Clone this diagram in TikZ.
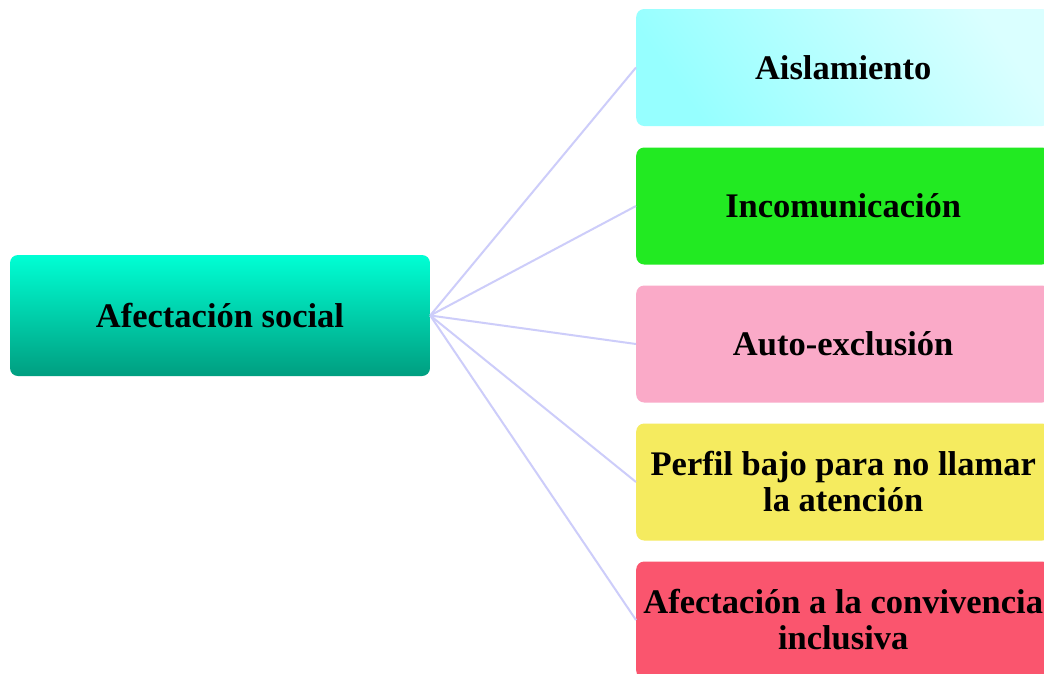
\documentclass[tikz,border=0pt]{standalone}
\usepackage{fontspec}
\setmainfont{Liberation Serif}
\usetikzlibrary{shadings}
\definecolor{lineC}{RGB}{205,205,250}
\definecolor{tealTop}{RGB}{0,255,212}
\definecolor{tealBot}{RGB}{0,158,128}
\definecolor{cyanA}{RGB}{150,255,255}
\definecolor{cyanB}{RGB}{218,255,255}
\definecolor{greenC}{RGB}{34,234,34}
\definecolor{pinkC}{RGB}{250,170,200}
\definecolor{yellowC}{RGB}{245,235,95}
\definecolor{redC}{RGB}{250,85,110}
\tikzset{
  box/.style={rectangle, rounded corners=8pt, inner sep=0pt, align=center,
    font=\fontsize{34.5}{36}\selectfont\bfseries, text=black},
  rbox/.style={box, minimum width=414pt, minimum height=117pt, anchor=west},
  conn/.style={draw=lineC, line width=2pt}
}
\begin{document}
\begin{tikzpicture}[x=1pt,y=-1pt]
\clip (0,0) rectangle (1044,673);
\fill[white] (0,0) rectangle (1044,673);
\node[box, minimum width=420pt, minimum height=121pt, top color=tealTop, bottom color=tealBot] (root) at (220,315.5) {Afectaci\'on social};
\node[rbox, left color=cyanA, right color=cyanB, shading angle=125] (n1) at (636,67.5) {Aislamiento};
\node[rbox, fill=greenC] (n2) at (636,206) {Incomunicaci\'on};
\node[rbox, fill=pinkC] (n3) at (636,344) {Auto-exclusi\'on};
\node[rbox, fill=yellowC] (n4) at (636,482) {Perfil bajo para no llamar\\la atenci\'on};
\node[rbox, fill=redC] (n5) at (636,620) {Afectaci\'on a la convivencia\\inclusiva};
\foreach \n in {n1,n2,n3,n4,n5}
  \draw[conn] (root.east) -- (\n.west);
\end{tikzpicture}
\end{document}
